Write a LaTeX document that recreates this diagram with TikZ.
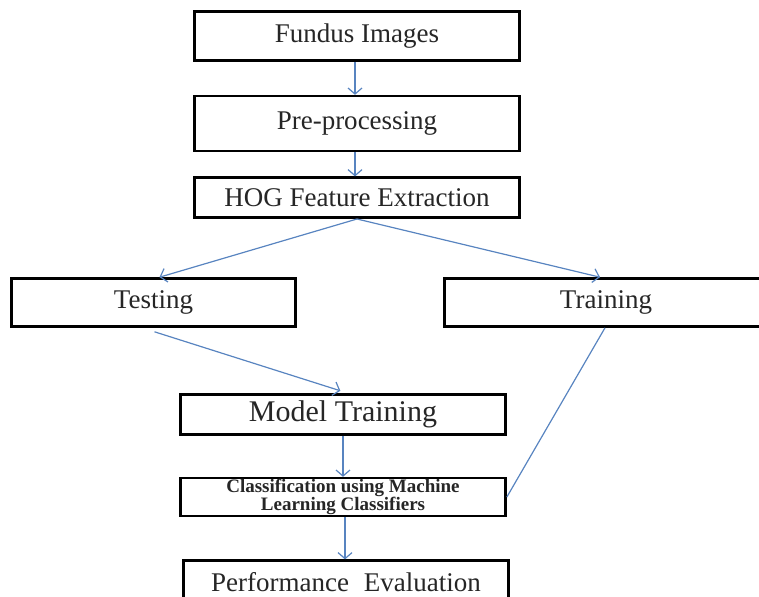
\documentclass[tikz,border=0pt]{standalone}
\usepackage{fontspec}
\setmainfont{Liberation Serif}
\usetikzlibrary{positioning,arrows.meta}
\definecolor{flowblue}{RGB}{88,132,192}
\tikzset{
  stage/.style ={rectangle, draw=black, line width=2.6pt, fill=white, minimum width=325pt, inner sep=0pt, text=black!85, font=\fontsize{27}{30}\selectfont},
  split/.style ={stage, minimum width=284pt, minimum height=48pt},
  e/.style     ={-{Straight Barb[length=6pt, width=14pt]}, draw=flowblue, line width=1.2pt},
  ln/.style    ={draw=flowblue, line width=1.2pt},
}

\begin{document}
\begin{tikzpicture}[x=1pt, y=-1pt]
\clip (0,0) rectangle (759,596);
\node[stage, minimum height=49pt] (fundus) at (357,36) {Fundus Images};
\node[stage, minimum height=55pt, below=33pt of fundus] (prep) {Pre-processing};
\node[stage, minimum height=40pt, below=24pt of prep] (hog) {HOG Feature Extraction};
\node[split] (test) at (153.5,302.5) {Testing};
\node[split, minimum width=327pt] (train) at (608,302.5) {};
\node[text=black!85, font=\fontsize{27}{30}\selectfont] at (606,302.5) {Training};
\node[stage, minimum height=40pt, font=\fontsize{30}{33}\selectfont] (model) at (343,414.5) {Model Training};
\node[stage, minimum height=38pt, below=41pt of model, align=center,
      font=\fontsize{19}{14.5}\selectfont\bfseries] (clf) {Classification using Machine\\Learning Classifiers};
\node[stage, minimum height=42pt, below=42pt of clf, xshift=3pt] (perf) {Performance\hspace{0.3em} Evaluation};
% connectors
\draw[e] ([xshift=-2pt]fundus.south) -- ([xshift=-2pt]prep.north);
\draw[e] ([xshift=-2pt]prep.south) -- ([xshift=-2pt]hog.north);
\draw[e] (hog.south) -- ([xshift=6pt]test.north);
\draw[e] (hog.south) -- ([xshift=-8pt]train.north);
\draw[e, shorten >=8pt] ([xshift=1pt, yshift=-4pt]test.south) -- ([xshift=5pt]model.north);
\draw[e] (model.south) -- (clf.north);
\draw[e] ([xshift=2pt]clf.south) -- ([xshift=-1pt]perf.north);
\draw[ln] ([xshift=-3pt]train.south) -- (clf.east);
\end{tikzpicture}
\end{document}
